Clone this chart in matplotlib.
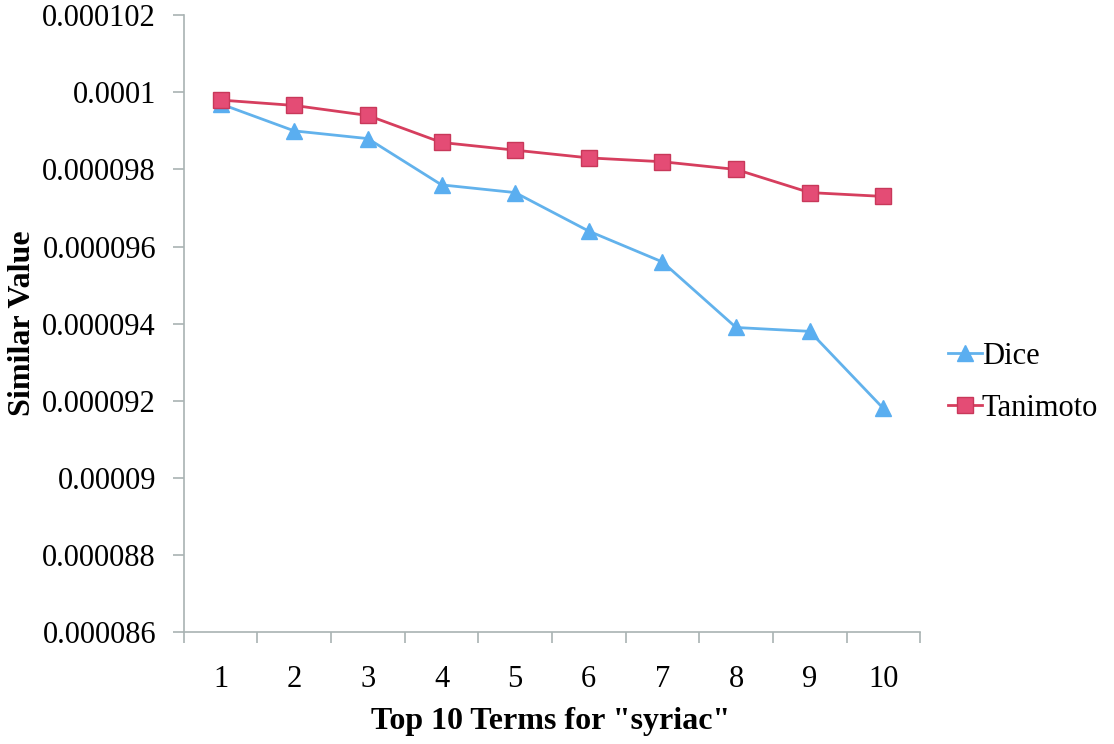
import numpy as np
import matplotlib.pyplot as plt
from matplotlib.ticker import FixedLocator

# data
terms = list(range(1, 11))
dice = [0.0000997, 0.0000990, 0.0000988, 0.0000976, 0.0000974,
        0.0000964, 0.0000956, 0.0000939, 0.0000938, 0.0000918]
tanimoto = [0.0000998, 0.00009966, 0.0000994, 0.0000987, 0.0000985,
            0.0000983, 0.0000982, 0.0000980, 0.0000974, 0.0000973]
y_ticks = [0.000086, 0.000088, 0.00009, 0.000092, 0.000094,
           0.000096, 0.000098, 0.0001, 0.000102]
y_labels = ['0.000086', '0.000088', '0.00009', '0.000092', '0.000094',
            '0.000096', '0.000098', '0.0001', '0.000102']

plt.rcParams['font.family'] = ['Liberation Serif', 'DejaVu Serif']

fig = plt.figure(figsize=(11.14, 7.44), dpi=100)
ax = fig.add_axes([0.165, 0.1505, 0.661, 0.829])

dice_color = '#62B2EC'
tani_color = '#D63E5E'

ax.plot(terms, dice, color=dice_color, lw=2, marker='^', ms=11,
        markerfacecolor='#5AAEF0', markeredgecolor='#5AAEF0', label='Dice', zorder=3)
ax.plot(terms, tanimoto, color=tani_color, lw=2, marker='s', ms=11,
        markerfacecolor='#E44C75', markeredgecolor='#C8385A', label='Tanimoto', zorder=4)

ax.set_xlim(0.5, 10.5)
ax.set_ylim(0.000086, 0.000102)

# y axis
ax.set_yticks(y_ticks)
ax.set_yticklabels(y_labels, fontsize=22)
ax.tick_params(axis='y', length=8, width=1.2, color='#A9B3B3', pad=12)

# x axis: category ticks sit between the labels
ax.xaxis.set_major_locator(FixedLocator(terms))
ax.set_xticklabels([str(t) for t in terms], fontsize=22)
ax.xaxis.set_minor_locator(FixedLocator(np.arange(0.5, 11, 1)))
ax.tick_params(axis='x', which='major', length=0, pad=24)
ax.tick_params(axis='x', which='minor', length=8, width=1.2, color='#A9B3B3')

for side in ['top', 'right']:
    ax.spines[side].set_visible(False)
for side in ['left', 'bottom']:
    ax.spines[side].set_color('#A9B3B3')
    ax.spines[side].set_linewidth(1.2)

fig.text(0.02, 0.566, 'Similar Value', rotation=90, ha='center', va='center',
         fontsize=23, fontweight='bold')
fig.text(0.494, 0.03, 'Top 10 Terms for "syriac"', ha='center', va='center',
         fontsize=23, fontweight='bold')

fig.legend(loc='center left', bbox_to_anchor=(0.851, 0.486), frameon=False,
           fontsize=22, handlelength=1.1, handletextpad=0.0, labelspacing=0.75,
           borderaxespad=0, borderpad=0)

fig.savefig('out.png', dpi=100)
